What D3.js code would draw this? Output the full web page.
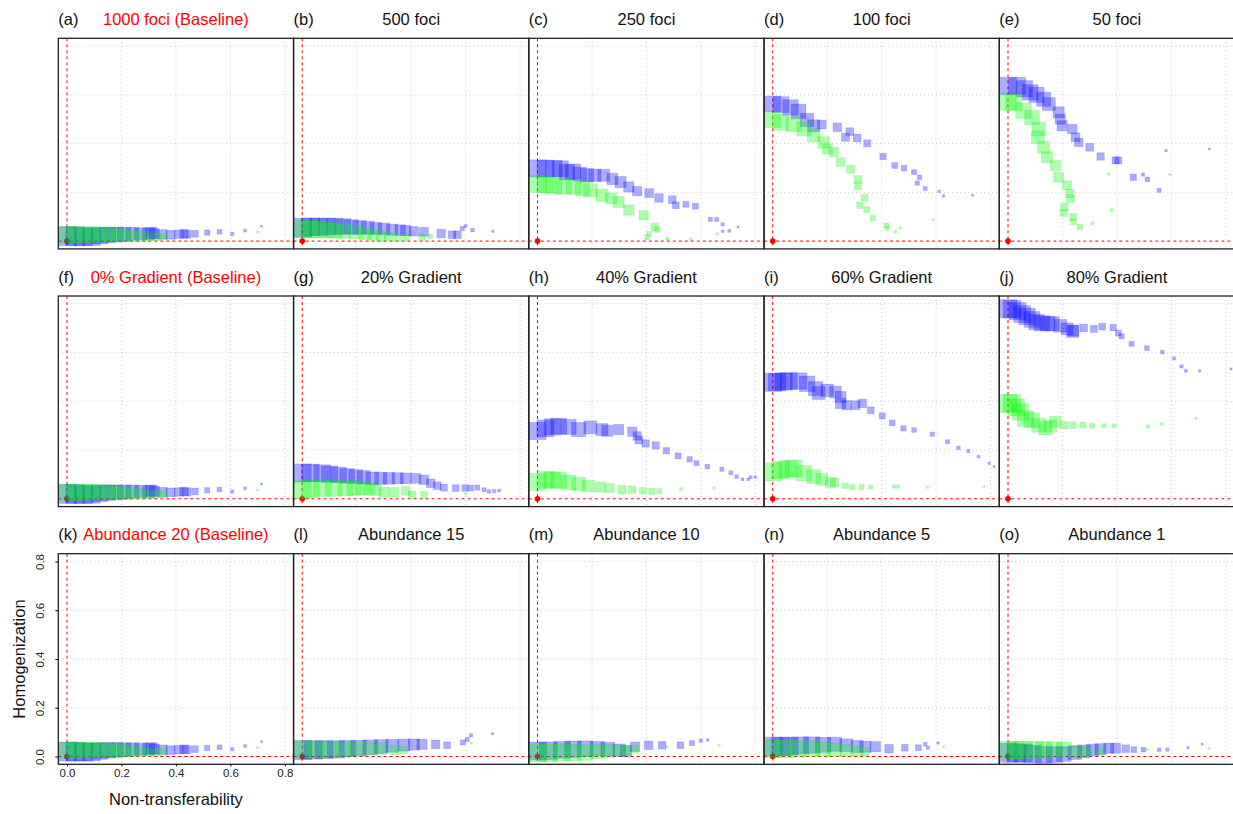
<!DOCTYPE html>
<html>
<head>
<meta charset="utf-8">
<script src="https://cdn.jsdelivr.net/npm/d3@7"></script>
<style>
  body { margin: 0; background: #fff; }
  text { font-family: "Liberation Sans", Arial, sans-serif; }
</style>
</head>
<body>
<div id="chart"></div>
<script>
// point data: [non-transferability, homogenization, relative weight]
var baseBlue = [[0.00,0.020,1.0],[0.03,0.020,0.98],[0.06,0.018,0.95],[0.09,0.018,0.92],[0.12,0.022,0.85],[0.15,0.025,0.8],[0.18,0.027,0.75],[0.21,0.028,0.7],[0.24,0.030,0.65],[0.27,0.030,0.6],[0.30,0.030,0.6],[0.31,0.034,0.55],[0.32,0.030,0.5],[0.35,0.028,0.45],[0.38,0.026,0.42],[0.41,0.028,0.4],[0.43,0.030,0.4],[0.44,0.028,0.38],[0.47,0.030,0.3],[0.515,0.035,0.22],[0.56,0.038,0.18],[0.607,0.030,0.1],[0.654,0.043,0.08],[0.714,0.061,0.03]]
var baseGreen = [[0.00,0.026,0.85],[0.03,0.026,0.85],[0.06,0.026,0.82],[0.09,0.027,0.8],[0.12,0.027,0.78],[0.15,0.026,0.72],[0.18,0.025,0.68],[0.21,0.024,0.62],[0.24,0.022,0.55],[0.27,0.020,0.5],[0.30,0.018,0.42],[0.33,0.018,0.35],[0.356,0.018,0.3],[0.70,0.037,0.03]]

var bBlue = [[0.00,0.055,1.0],[0.03,0.058,0.95],[0.06,0.058,0.9],[0.09,0.06,0.88],[0.12,0.06,0.85],[0.15,0.06,0.8],[0.18,0.058,0.75],[0.21,0.056,0.7],[0.24,0.055,0.65],[0.27,0.052,0.6],[0.30,0.05,0.58],[0.33,0.047,0.55],[0.36,0.045,0.52],[0.38,0.044,0.5],[0.41,0.04,0.45],[0.447,0.038,0.42],[0.51,0.031,0.4],[0.55,0.026,0.35],[0.57,0.026,0.35],[0.588,0.052,0.15],[0.60,0.062,0.08],[0.625,0.045,0.12],[0.70,0.04,0.04]]
var bGreen = [[0.00,0.05,0.9],[0.03,0.05,0.88],[0.06,0.048,0.85],[0.09,0.046,0.82],[0.12,0.044,0.8],[0.15,0.042,0.75],[0.196,0.038,0.7],[0.23,0.032,0.62],[0.26,0.026,0.55],[0.29,0.02,0.48],[0.317,0.018,0.42],[0.35,0.016,0.35],[0.38,0.015,0.3],[0.44,0.016,0.28],[0.47,0.02,0.18]]

var cBlue = [[0.00,0.298,0.9],[0.03,0.298,0.88],[0.06,0.297,0.85],[0.084,0.297,0.82],[0.108,0.283,0.8],[0.13,0.285,0.78],[0.155,0.275,0.72],[0.182,0.27,0.68],[0.21,0.27,0.62],[0.243,0.27,0.6],[0.275,0.255,0.55],[0.305,0.242,0.55],[0.335,0.222,0.5],[0.366,0.205,0.45],[0.41,0.197,0.42],[0.446,0.177,0.4],[0.495,0.17,0.35],[0.508,0.147,0.3],[0.545,0.151,0.25],[0.58,0.143,0.25],[0.635,0.089,0.15],[0.658,0.089,0.15],[0.68,0.069,0.1],[0.704,0.042,0.08],[0.68,0.04,0.06],[0.737,0.058,0.03]]
var cGreen = [[0.00,0.235,0.9],[0.03,0.232,0.88],[0.06,0.228,0.85],[0.095,0.225,0.82],[0.133,0.222,0.78],[0.165,0.215,0.72],[0.194,0.208,0.68],[0.237,0.188,0.62],[0.27,0.175,0.55],[0.298,0.16,0.55],[0.335,0.127,0.5],[0.39,0.106,0.45],[0.43,0.058,0.35],[0.44,0.048,0.25],[0.403,0.015,0.2],[0.41,0.03,0.18],[0.477,0.01,0.08],[0.563,0.008,0.06],[0.66,0.03,0.04]]

var dBlue = [[0.00,0.563,0.82],[0.03,0.56,0.82],[0.065,0.548,0.8],[0.095,0.532,0.75],[0.126,0.497,0.68],[0.15,0.473,0.6],[0.18,0.478,0.42],[0.237,0.467,0.4],[0.267,0.426,0.38],[0.283,0.449,0.36],[0.31,0.423,0.36],[0.347,0.401,0.32],[0.405,0.347,0.28],[0.448,0.31,0.25],[0.482,0.299,0.23],[0.519,0.283,0.2],[0.539,0.262,0.18],[0.531,0.238,0.16],[0.56,0.216,0.14],[0.611,0.204,0.06],[0.627,0.185,0.05],[0.734,0.188,0.04]]
var dGreen = [[0.00,0.498,0.82],[0.028,0.487,0.82],[0.077,0.48,0.78],[0.114,0.46,0.72],[0.15,0.433,0.65],[0.187,0.405,0.58],[0.2,0.378,0.5],[0.224,0.365,0.45],[0.249,0.324,0.42],[0.286,0.295,0.38],[0.313,0.253,0.36],[0.313,0.226,0.33],[0.337,0.178,0.3],[0.32,0.147,0.28],[0.345,0.129,0.26],[0.367,0.095,0.22],[0.417,0.064,0.2],[0.42,0.052,0.15],[0.451,0.038,0.06],[0.467,0.054,0.05],[0.589,0.088,0.03]]

var eBlue = [[0.00,0.637,0.9],[0.033,0.637,0.88],[0.06,0.625,0.85],[0.082,0.61,0.8],[0.105,0.6,0.78],[0.131,0.582,0.72],[0.15,0.562,0.65],[0.186,0.528,0.55],[0.192,0.5,0.5],[0.199,0.473,0.5],[0.236,0.46,0.45],[0.248,0.426,0.42],[0.26,0.405,0.4],[0.3,0.385,0.36],[0.34,0.347,0.34],[0.395,0.331,0.32],[0.405,0.331,0.32],[0.46,0.262,0.28],[0.496,0.273,0.1],[0.512,0.253,0.18],[0.555,0.208,0.14],[0.58,0.371,0.05],[0.739,0.378,0.03]]
var eGreen = [[0.00,0.571,0.85],[0.021,0.569,0.85],[0.057,0.535,0.8],[0.088,0.507,0.75],[0.113,0.46,0.7],[0.11,0.426,0.65],[0.131,0.385,0.6],[0.143,0.344,0.55],[0.174,0.31,0.5],[0.186,0.262,0.48],[0.217,0.229,0.42],[0.226,0.195,0.4],[0.23,0.174,0.38],[0.207,0.14,0.36],[0.205,0.115,0.32],[0.239,0.099,0.3],[0.24,0.079,0.25],[0.264,0.058,0.22],[0.31,0.072,0.08],[0.37,0.276,0.06],[0.38,0.127,0.08],[0.594,0.273,0.04]]

var gBlue = [[0.00,0.106,0.95],[0.03,0.106,0.92],[0.073,0.105,0.88],[0.1,0.101,0.85],[0.134,0.098,0.8],[0.165,0.094,0.75],[0.196,0.091,0.72],[0.226,0.088,0.68],[0.257,0.084,0.65],[0.288,0.084,0.6],[0.318,0.084,0.58],[0.35,0.084,0.55],[0.38,0.084,0.52],[0.417,0.084,0.48],[0.447,0.078,0.45],[0.472,0.064,0.4],[0.496,0.054,0.35],[0.52,0.046,0.32],[0.564,0.044,0.3],[0.598,0.044,0.28],[0.619,0.044,0.25],[0.643,0.046,0.2],[0.668,0.037,0.15],[0.686,0.03,0.12],[0.705,0.032,0.1],[0.723,0.034,0.08]]
var gGreen = [[0.00,0.037,0.95],[0.03,0.04,0.92],[0.073,0.044,0.88],[0.115,0.044,0.85],[0.159,0.044,0.8],[0.19,0.044,0.75],[0.22,0.044,0.7],[0.245,0.04,0.62],[0.269,0.037,0.55],[0.3,0.027,0.5],[0.337,0.027,0.45],[0.38,0.033,0.42],[0.404,0.016,0.35],[0.447,0.016,0.3],[0.6,0.02,0.04]]

var hBlue = [[0.00,0.278,0.9],[0.029,0.289,0.88],[0.055,0.295,0.85],[0.078,0.298,0.82],[0.114,0.295,0.78],[0.151,0.284,0.72],[0.194,0.293,0.65],[0.237,0.284,0.6],[0.256,0.279,0.55],[0.298,0.284,0.5],[0.348,0.275,0.45],[0.366,0.258,0.4],[0.372,0.241,0.36],[0.397,0.227,0.34],[0.434,0.219,0.33],[0.473,0.197,0.28],[0.516,0.176,0.26],[0.559,0.162,0.22],[0.584,0.146,0.2],[0.624,0.132,0.18],[0.677,0.121,0.15],[0.71,0.107,0.14],[0.731,0.091,0.12],[0.753,0.08,0.08],[0.774,0.08,0.08],[0.783,0.089,0.08],[0.8,0.089,0.06]]
var hGreen = [[0.00,0.069,0.9],[0.029,0.078,0.88],[0.055,0.077,0.85],[0.078,0.076,0.82],[0.114,0.067,0.75],[0.151,0.061,0.68],[0.187,0.053,0.6],[0.23,0.048,0.5],[0.265,0.044,0.45],[0.31,0.037,0.4],[0.348,0.037,0.35],[0.387,0.033,0.3],[0.42,0.03,0.28],[0.447,0.032,0.2],[0.527,0.04,0.08],[0.648,0.044,0.04]]

var iBlue = [[0.00,0.478,0.95],[0.016,0.479,0.92],[0.04,0.481,0.9],[0.059,0.483,0.88],[0.095,0.483,0.85],[0.126,0.472,0.8],[0.157,0.452,0.72],[0.169,0.434,0.65],[0.2,0.445,0.62],[0.23,0.438,0.58],[0.249,0.418,0.55],[0.249,0.391,0.5],[0.271,0.384,0.45],[0.304,0.384,0.42],[0.329,0.391,0.4],[0.36,0.363,0.3],[0.402,0.34,0.26],[0.439,0.311,0.24],[0.48,0.289,0.22],[0.519,0.282,0.18],[0.586,0.265,0.16],[0.642,0.234,0.15],[0.682,0.209,0.12],[0.718,0.196,0.1],[0.756,0.173,0.08],[0.795,0.146,0.05],[0.813,0.132,0.04]]
var iGreen = [[0.00,0.11,0.95],[0.028,0.118,0.92],[0.055,0.122,0.9],[0.077,0.125,0.88],[0.114,0.105,0.8],[0.15,0.091,0.7],[0.18,0.08,0.6],[0.212,0.067,0.5],[0.227,0.067,0.4],[0.267,0.054,0.25],[0.292,0.048,0.22],[0.326,0.048,0.2],[0.36,0.048,0.15],[0.445,0.05,0.1],[0.46,0.05,0.1],[0.568,0.048,0.05],[0.776,0.05,0.03]]

var jBlue = [[0.00,0.78,0.95],[0.015,0.778,0.92],[0.035,0.77,0.9],[0.052,0.758,0.88],[0.07,0.748,0.85],[0.088,0.736,0.82],[0.105,0.725,0.8],[0.125,0.72,0.78],[0.145,0.719,0.75],[0.162,0.718,0.72],[0.192,0.71,0.65],[0.217,0.697,0.6],[0.237,0.687,0.6],[0.24,0.69,0.55],[0.278,0.701,0.35],[0.315,0.697,0.32],[0.346,0.706,0.3],[0.386,0.702,0.28],[0.405,0.68,0.25],[0.417,0.667,0.22],[0.454,0.636,0.2],[0.51,0.618,0.18],[0.567,0.602,0.12],[0.61,0.576,0.1],[0.637,0.543,0.1],[0.653,0.525,0.08],[0.704,0.525,0.05],[0.819,0.533,0.03]]
var jGreen = [[0.00,0.392,0.95],[0.015,0.391,0.92],[0.03,0.375,0.88],[0.045,0.356,0.85],[0.064,0.329,0.82],[0.088,0.322,0.78],[0.113,0.302,0.72],[0.137,0.289,0.68],[0.156,0.298,0.62],[0.174,0.316,0.55],[0.207,0.302,0.35],[0.238,0.302,0.3],[0.275,0.302,0.25],[0.309,0.3,0.2],[0.352,0.3,0.15],[0.389,0.3,0.12],[0.514,0.296,0.1],[0.564,0.308,0.08],[0.69,0.33,0.04]]

var lBlue = [[0.00,0.026,1.0],[0.04,0.027,0.97],[0.08,0.028,0.94],[0.123,0.029,0.9],[0.165,0.032,0.85],[0.207,0.035,0.8],[0.25,0.038,0.75],[0.29,0.041,0.7],[0.33,0.044,0.65],[0.373,0.047,0.6],[0.41,0.049,0.55],[0.44,0.05,0.5],[0.49,0.05,0.4],[0.532,0.046,0.3],[0.59,0.058,0.2],[0.606,0.07,0.15],[0.62,0.087,0.1],[0.699,0.093,0.04]]
var lGreen = [[0.00,0.029,0.92],[0.05,0.029,0.9],[0.1,0.029,0.88],[0.15,0.03,0.82],[0.2,0.031,0.75],[0.25,0.031,0.65],[0.29,0.032,0.55],[0.34,0.026,0.45],[0.373,0.026,0.35],[0.62,0.055,0.04]]

var mBlue = [[0.00,0.022,0.95],[0.04,0.024,0.92],[0.09,0.027,0.88],[0.13,0.03,0.85],[0.175,0.032,0.8],[0.22,0.032,0.75],[0.258,0.03,0.7],[0.3,0.026,0.62],[0.325,0.022,0.55],[0.358,0.04,0.45],[0.408,0.046,0.4],[0.458,0.046,0.35],[0.525,0.046,0.3],[0.567,0.055,0.2],[0.6,0.065,0.1],[0.625,0.068,0.06]]
var mGreen = [[0.00,0.015,0.95],[0.04,0.015,0.92],[0.09,0.016,0.88],[0.13,0.016,0.85],[0.175,0.016,0.8],[0.22,0.02,0.72],[0.258,0.022,0.65],[0.3,0.024,0.55],[0.325,0.026,0.45],[0.358,0.03,0.35],[0.475,0.04,0.05],[0.667,0.045,0.04]]

var nBlue = [[0.00,0.041,1.0],[0.03,0.041,0.97],[0.06,0.042,0.95],[0.1,0.045,0.9],[0.143,0.047,0.85],[0.185,0.048,0.78],[0.227,0.05,0.72],[0.27,0.046,0.65],[0.31,0.041,0.6],[0.34,0.04,0.55],[0.377,0.04,0.5],[0.427,0.032,0.4],[0.485,0.036,0.3],[0.535,0.036,0.25],[0.56,0.05,0.12],[0.57,0.036,0.1],[0.607,0.055,0.05]]
var nGreen = [[0.00,0.032,0.95],[0.04,0.032,0.92],[0.09,0.032,0.88],[0.143,0.032,0.82],[0.185,0.029,0.75],[0.227,0.026,0.68],[0.27,0.024,0.6],[0.31,0.022,0.5],[0.34,0.019,0.4],[0.627,0.04,0.04]]

var oBlue = [[0.00,0.015,1.0],[0.03,0.015,0.97],[0.057,0.014,0.95],[0.09,0.011,0.92],[0.131,0.007,0.88],[0.17,0.008,0.82],[0.205,0.01,0.76],[0.245,0.016,0.7],[0.279,0.021,0.65],[0.31,0.026,0.6],[0.34,0.03,0.55],[0.37,0.034,0.5],[0.395,0.034,0.48],[0.432,0.032,0.35],[0.462,0.028,0.25],[0.497,0.028,0.18],[0.555,0.028,0.12],[0.585,0.028,0.1],[0.661,0.036,0.05],[0.713,0.051,0.03]]
var oGreen = [[0.00,0.025,0.95],[0.03,0.026,0.92],[0.057,0.027,0.9],[0.1,0.027,0.88],[0.131,0.027,0.85],[0.17,0.028,0.8],[0.205,0.029,0.75],[0.254,0.021,0.6],[0.29,0.019,0.5],[0.34,0.02,0.35],[0.512,0.028,0.04],[0.738,0.033,0.03]]

var tags = ["(a)","(b)","(c)","(d)","(e)","(f)","(g)","(h)","(i)","(j)","(k)","(l)","(m)","(n)","(o)"]
var titles = ["1000 foci (Baseline)","500 foci","250 foci","100 foci","50 foci",
  "0% Gradient (Baseline)","20% Gradient","40% Gradient","60% Gradient","80% Gradient",
  "Abundance 20 (Baseline)","Abundance 15","Abundance 10","Abundance 5","Abundance 1"]
var blueSeries = [baseBlue,bBlue,cBlue,dBlue,eBlue, baseBlue,gBlue,hBlue,iBlue,jBlue, baseBlue,lBlue,mBlue,nBlue,oBlue]
var greenSeries = [baseGreen,bGreen,cGreen,dGreen,eGreen, baseGreen,gGreen,hGreen,iGreen,jGreen, baseGreen,lGreen,mGreen,nGreen,oGreen]
var ticks = [0, 0.2, 0.4, 0.6, 0.8]

var width = 1233, height = 814
var left0 = 58.3, panelW = 235.25, top0 = 38.3, rowStep = 257.7, panelH = 210.6
var domain = [-0.032, 0.832]
var size = d3.scaleLinear().domain([0, 1]).range([1.5, 19])

var svg = d3.select("#chart").append("svg")
  .attr("width", width).attr("height", height)
  .style("background", "#fff")

var defs = svg.append("defs")

tags.forEach(function (tag, i) {
  var col = i % 5, row = Math.floor(i / 5)
  var px = left0 + col * panelW, py = top0 + row * rowStep
  var x = d3.scaleLinear().domain(domain).range([px, px + panelW])
  var y = d3.scaleLinear().domain(domain).range([py + panelH, py])

  defs.append("clipPath").attr("id", "clip" + i)
    .append("rect").attr("x", px).attr("y", py).attr("width", panelW).attr("height", panelH)

  var g = svg.append("g").attr("clip-path", "url(#clip" + i + ")")

  // grid
  g.selectAll(".gx").data(ticks.slice(1)).enter().append("line")
    .attr("x1", function (d) { return x(d) }).attr("x2", function (d) { return x(d) })
    .attr("y1", py).attr("y2", py + panelH)
    .attr("stroke", "#c8c8c8").attr("stroke-width", 1).attr("stroke-dasharray", "1,3")
  g.selectAll(".gy").data(ticks.slice(1)).enter().append("line")
    .attr("y1", function (d) { return y(d) }).attr("y2", function (d) { return y(d) })
    .attr("x1", px).attr("x2", px + panelW)
    .attr("stroke", "#c8c8c8").attr("stroke-width", 1).attr("stroke-dasharray", "1,3")

  // reference lines at zero
  g.append("line").attr("x1", x(0)).attr("x2", x(0)).attr("y1", py).attr("y2", py + panelH)
    .attr("stroke", "#ff0000").attr("stroke-width", 1).attr("stroke-dasharray", "3,3")
  g.append("line").attr("y1", y(0)).attr("y2", y(0)).attr("x1", px).attr("x2", px + panelW)
    .attr("stroke", "#ff0000").attr("stroke-width", 1).attr("stroke-dasharray", "3,3")
  g.append("circle").attr("cx", x(0)).attr("cy", y(0)).attr("r", 2.8).attr("fill", "#ff0000")

  // squares
  g.selectAll(".sb").data(blueSeries[i]).enter().append("rect")
    .attr("x", function (d) { return x(d[0]) - size(d[2]) / 2 })
    .attr("y", function (d) { return y(d[1]) - size(d[2]) / 2 })
    .attr("width", function (d) { return size(d[2]) })
    .attr("height", function (d) { return size(d[2]) })
    .attr("fill", "rgba(0,0,255,0.32)").attr("stroke", "rgba(0,0,255,0.15)").attr("stroke-width", 1)
  g.selectAll(".sg").data(greenSeries[i]).enter().append("rect")
    .attr("x", function (d) { return x(d[0]) - size(d[2]) / 2 })
    .attr("y", function (d) { return y(d[1]) - size(d[2]) / 2 })
    .attr("width", function (d) { return size(d[2]) })
    .attr("height", function (d) { return size(d[2]) })
    .attr("fill", "rgba(0,255,0,0.32)").attr("stroke", "rgba(0,200,0,0.12)").attr("stroke-width", 1)

  // frame
  svg.append("rect").attr("x", px).attr("y", py).attr("width", panelW).attr("height", panelH)
    .attr("fill", "none").attr("stroke", "#222").attr("stroke-width", 1.3)

  // titles
  svg.append("text").attr("x", px).attr("y", py - 13.3)
    .attr("font-size", "16.5px").attr("fill", "#111").text(tag)
  svg.append("text").attr("x", px + panelW / 2).attr("y", py - 13.3)
    .attr("text-anchor", "middle").attr("font-size", "16.5px")
    .attr("fill", col === 0 ? "#ff0000" : "#111").text(titles[i])

  // axes only on the bottom-left panel
  if (i === 10) {
    var ya = svg.append("g").attr("transform", "translate(" + px + ",0)")
      .call(d3.axisLeft(y).tickValues(ticks).tickFormat(d3.format(".1f")).tickSize(3))
    ya.select(".domain").remove()
    ya.selectAll("text").attr("transform", "rotate(-90)").attr("x", 0).attr("y", -14)
      .attr("dy", 0).attr("text-anchor", "middle").attr("font-size", "11.5px")
      .attr("font-family", "Liberation Sans, Arial, sans-serif").attr("fill", "#222")
    var xa = svg.append("g").attr("transform", "translate(0," + (py + panelH) + ")")
      .call(d3.axisBottom(x).tickValues(ticks).tickFormat(d3.format(".1f")).tickSize(2))
    xa.select(".domain").remove()
    xa.selectAll("text").attr("y", 5).attr("font-size", "11.5px")
      .attr("font-family", "Liberation Sans, Arial, sans-serif").attr("fill", "#222")

    svg.append("text").attr("x", px + panelW / 2).attr("y", py + panelH + 41)
      .attr("text-anchor", "middle").attr("font-size", "16.5px").attr("fill", "#111")
      .text("Non-transferability")
    svg.append("text").attr("transform", "translate(25," + (py + panelH / 2) + ") rotate(-90)")
      .attr("text-anchor", "middle").attr("font-size", "16.5px").attr("fill", "#111")
      .text("Homogenization")
  }
})
</script>
</body>
</html>
